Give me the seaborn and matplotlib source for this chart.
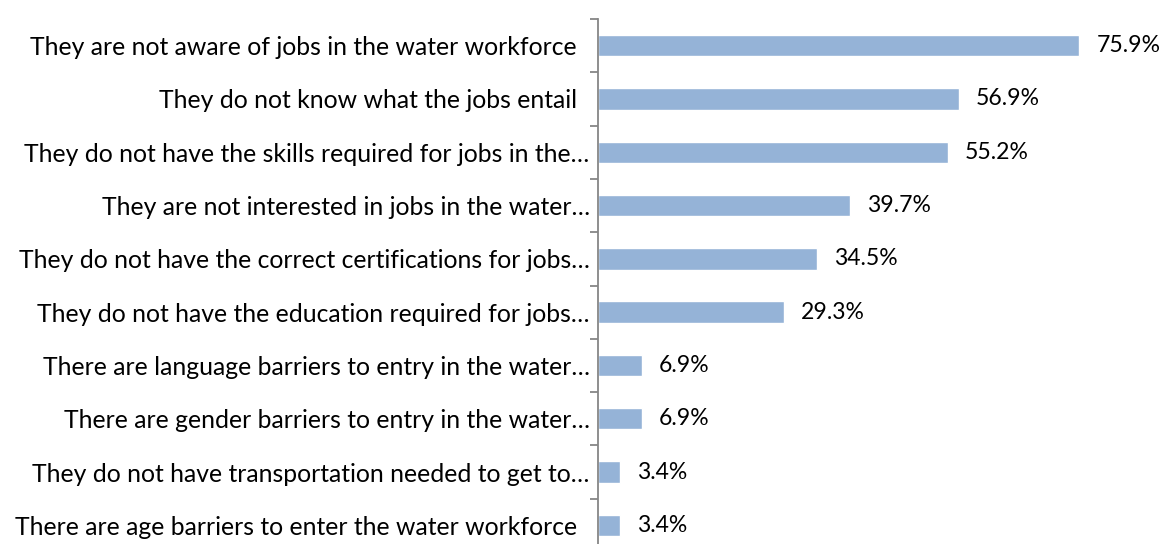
import matplotlib
matplotlib.use("Agg")
import matplotlib.pyplot as plt
import seaborn as sns
import pandas as pd
from matplotlib.ticker import FixedLocator

categories = [
    "They are not aware of jobs in the water workforce  ",
    "They do not know what the jobs entail  ",
    "They do not have the skills required for jobs in the…",
    "They are not interested in jobs in the water…",
    "They do not have the correct certifications for jobs…",
    "They do not have the education required for jobs…",
    "There are language barriers to entry in the water…",
    "There are gender barriers to entry in the water…",
    "They do not have transportation needed to get to…",
    "There are age barriers to enter the water workforce  ",
]
values = [75.9, 56.9, 55.2, 39.7, 34.5, 29.3, 6.9, 6.9, 3.4, 3.4]
value_labels = ["75.9%", "56.9%", "55.2%", "39.7%", "34.5%", "29.3%", "6.9%", "6.9%", "3.4%", "3.4%"]

df = pd.DataFrame({"reason": categories, "pct": values})

sns.set_theme(style="white")
plt.rcParams["font.family"] = ["Lato", "DejaVu Sans"]

W, H = 1165, 544
fig = plt.figure(figsize=(W / 100, H / 100), dpi=100)
left_px, right_px, top_px, bottom_px = 598, 1105, 19, 552
ax = fig.add_axes([left_px / W, 1 - bottom_px / H,
                   (right_px - left_px) / W, (bottom_px - top_px) / H])

sns.barplot(data=df, y="reason", x="pct", orient="h", color="#95B3D7",
            saturation=1, width=0.4, ax=ax)

ax.set_xlim(0, 80)
ax.set_ylim(len(categories) - 0.5, -0.5)

for i, (v, lab) in enumerate(zip(values, value_labels)):
    ax.annotate(lab, (v, i), xytext=(12.5, 0), textcoords="offset points",
                ha="left", va="center", fontsize=16.6, color="black",
                annotation_clip=False)

for s in ["top", "right", "bottom"]:
    ax.spines[s].set_visible(False)
ax.spines["left"].set_color("#868686")
ax.spines["left"].set_linewidth(1.3)

ax.set_xticks([])
ax.set_xlabel("")
ax.set_ylabel("")
ax.tick_params(axis="y", which="major", length=0, pad=6, labelsize=17.8,
               labelcolor="black")
ax.yaxis.set_minor_locator(FixedLocator([i - 0.5 for i in range(len(categories) + 1)]))
ax.tick_params(axis="y", which="minor", left=True, length=6, width=1.3,
               color="#868686")

fig.savefig("out.png", dpi=100)
